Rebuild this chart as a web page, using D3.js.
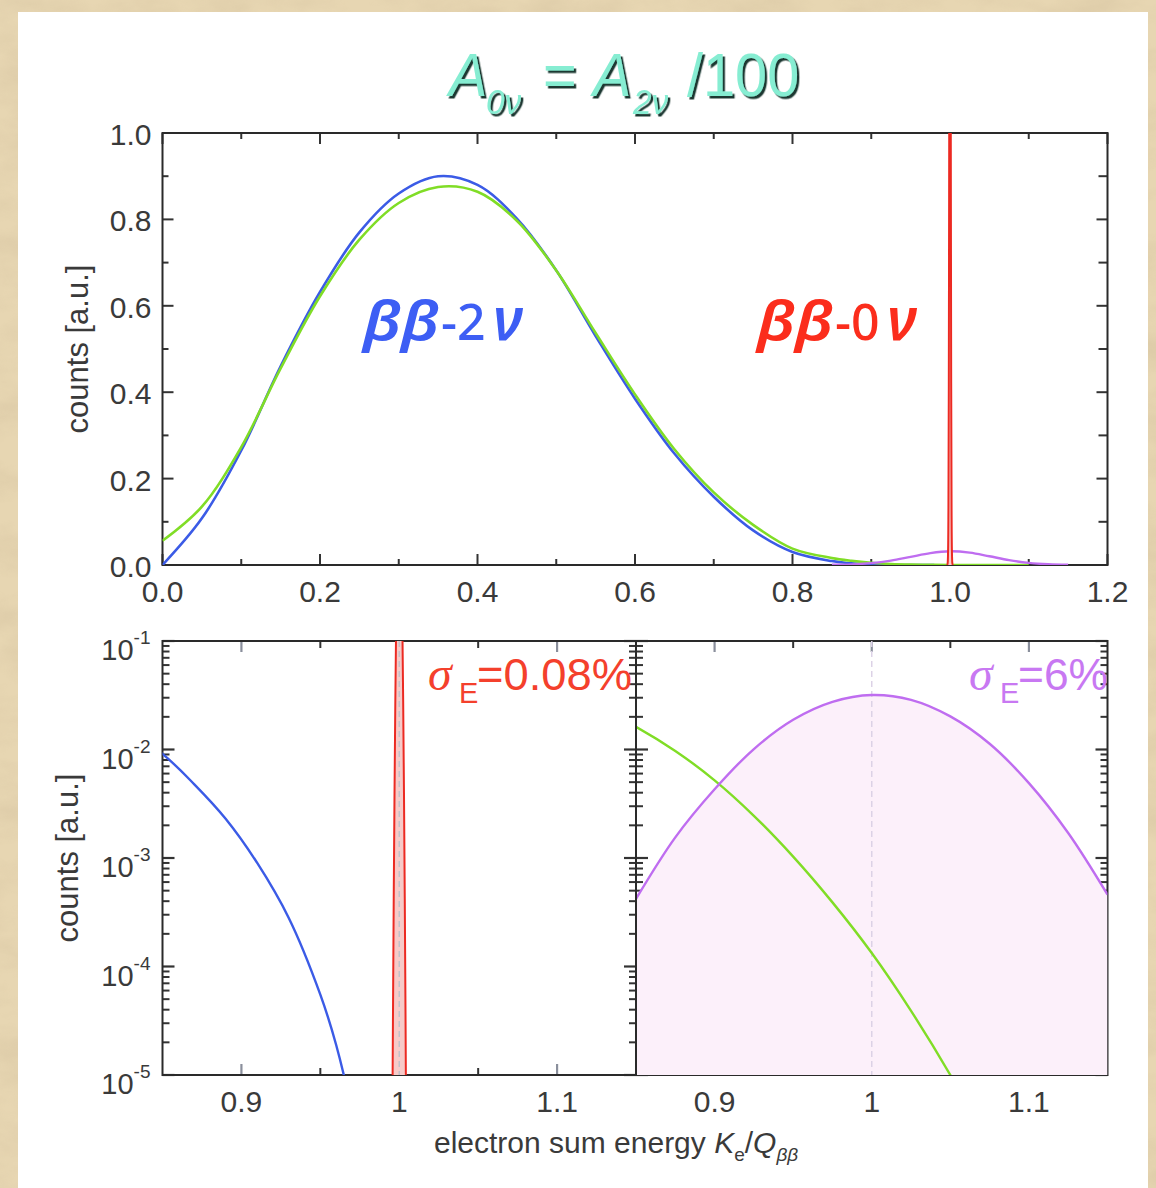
<!DOCTYPE html>
<html>
<head>
<meta charset="utf-8">
<script src="https://cdn.jsdelivr.net/npm/d3@7"></script>
<style>
  html, body { margin: 0; padding: 0; background: #e6d5b1; }
  svg { display: block; }
</style>
</head>
<body>
<script>
// ---------------- spectra ----------------
// two-neutrino sum-energy spectrum, sharp resolution (sigma_E = 0.08%)
const energy2nu = [0, 0.05, 0.1, 0.15, 0.2, 0.25, 0.3, 0.35, 0.4, 0.45, 0.5, 0.55, 0.6, 0.65,
                   0.7, 0.75, 0.8, 0.85, 0.87, 0.89, 0.91, 0.93, 0.95, 0.96, 0.97, 0.98];
const counts2nuSharp = [0, 0.108, 0.265, 0.46, 0.632, 0.770, 0.860, 0.900, 0.880, 0.802, 0.682,
                        0.530, 0.385, 0.258, 0.158, 0.080, 0.030, 0.0091, 0.0048, 0.0023,
                        0.00090, 0.00028, 0.000055, 0.000019, 0.0000046, 0.0000007];

// two-neutrino spectrum seen with sigma_E = 6%
const energy2nuSmeared = [0, 0.05, 0.1, 0.15, 0.2, 0.25, 0.3, 0.35, 0.4, 0.45, 0.5, 0.55, 0.6,
                          0.65, 0.7, 0.75, 0.8, 0.85, 0.875, 0.9, 0.925, 0.95, 0.975, 1.0,
                          1.025, 1.05, 1.075, 1.1];
const counts2nuSmeared = [0.056, 0.135, 0.273, 0.455, 0.622, 0.753, 0.838, 0.875, 0.864, 0.797,
                          0.682, 0.537, 0.395, 0.268, 0.168, 0.093, 0.038, 0.0162, 0.0097,
                          0.0052, 0.00245, 0.00103, 0.00039, 0.000133, 0.000039, 0.00001,
                          0.0000022, 0.0000004];

// neutrinoless peak, sigma_E = 0.08%
const energy0nuNarrow = [0.9955, 0.996, 0.9965, 0.997, 0.9975, 0.998, 0.9985, 0.999, 0.9995, 1.0,
                         1.0005, 1.001, 1.0015, 1.002, 1.0025, 1.003, 1.0035, 1.004, 1.0045];
const counts0nuNarrow = [0.0000016, 0.000031, 0.00042, 0.0039, 0.0265, 0.126, 0.42, 1.0, 1.68, 2.0,
                         1.68, 1.0, 0.42, 0.126, 0.0265, 0.0039, 0.00042, 0.000031, 0.0000016];

// neutrinoless peak, sigma_E = 6%
const energy0nuWide = [0.85, 0.875, 0.9, 0.925, 0.95, 0.975, 1.0, 1.025, 1.05, 1.075, 1.1, 1.125, 1.15];
const counts0nuWide = [0.00042, 0.00155, 0.0043, 0.0101, 0.0188, 0.0275, 0.0318, 0.0287, 0.0202,
                       0.0113, 0.0049, 0.0017, 0.00046];

// ---------------- axes ----------------
const topXMajor = [0, 0.2, 0.4, 0.6, 0.8, 1.0, 1.2];
const topXMinor = [0.1, 0.3, 0.5, 0.7, 0.9, 1.1];
const topXLabels = ["0.0", "0.2", "0.4", "0.6", "0.8", "1.0", "1.2"];
const topYMajor = [0, 0.2, 0.4, 0.6, 0.8, 1.0];
const topYMinor = [0.1, 0.3, 0.5, 0.7, 0.9];
const topYLabels = ["0.0", "0.2", "0.4", "0.6", "0.8", "1.0"];
const zoomXMajor = [0.9, 1.0, 1.1];
const zoomXMinor = [0.95, 1.05];
const zoomXLabels = ["0.9", "1", "1.1"];
const logDecades = [1e-5, 1e-4, 1e-3, 1e-2, 1e-1];
const logExponents = ["-5", "-4", "-3", "-2", "-1"];

// ---------------- setup ----------------
const W = 1156, H = 1188;
const FONT = "'Liberation Sans', Arial, Helvetica, sans-serif";
const HUMAN = "'Noto Sans', 'Open Sans', sans-serif";
const C = {
  blue: "#3b5be6", green: "#80dd26", purple: "#bf6df0", red: "#ec2a22",
  redFill: "#f7cac8", purpleFill: "#fcf0fa", frame: "#2a2a2a", tick: "#333",
  tickGray: "#8a8f9c", text: "#3a3a3a"
};

const svg = d3.select("body").append("svg").attr("width", W).attr("height", H);
const defs = svg.append("defs");

// parchment backdrop
const paper = defs.append("filter").attr("id", "paper")
  .attr("x", 0).attr("y", 0).attr("width", "100%").attr("height", "100%");
paper.append("feTurbulence").attr("type", "fractalNoise")
  .attr("baseFrequency", "0.015 0.03").attr("numOctaves", 4).attr("seed", 7).attr("result", "n");
paper.append("feColorMatrix").attr("in", "n").attr("type", "matrix")
  .attr("values", "0 0 0 0 0.62  0 0 0 0 0.50  0 0 0 0 0.32  1.3 0 0 0 -0.5");

// dark drop shadow for the headline
const shadow = defs.append("filter").attr("id", "headShadow")
  .attr("x", "-10%").attr("y", "-20%").attr("width", "120%").attr("height", "140%");
shadow.append("feDropShadow").attr("dx", 2.5).attr("dy", 2.5).attr("stdDeviation", 0.6)
  .attr("flood-color", "#1c3732").attr("flood-opacity", 1);

svg.append("rect").attr("width", W).attr("height", H).attr("fill", "#e7d6b2");
svg.append("rect").attr("width", W).attr("height", H).attr("filter", "url(#paper)").attr("opacity", 0.55);
svg.append("rect").attr("x", 18).attr("y", 12).attr("width", 1130).attr("height", H).attr("fill", "#fff");

// scales
const xTop = d3.scaleLinear().domain([0, 1.2]).range([162.5, 1107.5]);
const yTop = d3.scaleLinear().domain([0, 1]).range([565, 133]);
const yLog = d3.scaleLog().domain([1e-5, 1e-1]).range([1075, 641]);
const xLeft = d3.scaleLinear().domain([0.85, 1.15]).range([162.5, 636]);
const xRight = d3.scaleLinear().domain([0.85, 1.15]).range([636, 1107.5]);
const smooth = d3.curveCatmullRom.alpha(0.5);

function clip(id, x0, x1, y0, y1) {
  defs.append("clipPath").attr("id", id).append("rect")
    .attr("x", x0).attr("y", y0).attr("width", x1 - x0).attr("height", y1 - y0);
}
clip("clipTop", xTop.range()[0], xTop.range()[1], yTop.range()[1], yTop.range()[0]);
clip("clipLeft", xLeft.range()[0], xLeft.range()[1], yLog.range()[1], yLog.range()[0]);
clip("clipRight", xRight.range()[0], xRight.range()[1], yLog.range()[1], yLog.range()[0]);

function hTicks(g, scale, vals, y, len, dir, color, w) {
  g.selectAll(null).data(vals).enter().append("line")
    .attr("x1", d => scale(d)).attr("x2", d => scale(d))
    .attr("y1", y).attr("y2", y + dir * len)
    .attr("stroke", color).attr("stroke-width", w);
}
function vTicks(g, scale, vals, x, len, dir, color, w) {
  g.selectAll(null).data(vals).enter().append("line")
    .attr("y1", d => scale(d)).attr("y2", d => scale(d))
    .attr("x1", x).attr("x2", x + dir * len)
    .attr("stroke", color).attr("stroke-width", w);
}
function frame(g, x0, x1, y0, y1) {
  g.append("rect").attr("x", x0).attr("y", y0).attr("width", x1 - x0).attr("height", y1 - y0)
    .attr("fill", "none").attr("stroke", C.frame).attr("stroke-width", 2);
}
const pairs = (xs, ys) => xs.map((x, i) => [x, ys[i]]);

// ---------------- top panel: linear ----------------
const gTop = svg.append("g");
{
  const [x0, x1] = xTop.range(), [y1, y0] = yTop.range();
  hTicks(gTop, xTop, topXMajor, y1, 11, -1, C.tick, 2);
  hTicks(gTop, xTop, topXMinor, y1, 6, -1, C.tick, 2);
  hTicks(gTop, xTop, topXMajor, y0, 11, 1, C.tick, 2);
  hTicks(gTop, xTop, topXMinor, y0, 6, 1, C.tick, 2);
  vTicks(gTop, yTop, topYMajor, x0, 11, 1, C.tick, 2);
  vTicks(gTop, yTop, topYMinor, x0, 6, 1, C.tick, 2);
  vTicks(gTop, yTop, topYMajor, x1, 11, -1, C.tick, 2);
  vTicks(gTop, yTop, topYMinor, x1, 9, -1, C.tick, 2);
  frame(gTop, x0, x1, y0, y1);

  gTop.selectAll(null).data(topXMajor).enter().append("text")
    .attr("x", d => xTop(d)).attr("y", y1 + 36.5).attr("text-anchor", "middle")
    .attr("font-family", FONT).attr("font-size", 30).attr("fill", C.text)
    .text((d, i) => topXLabels[i]);
  gTop.selectAll(null).data(topYMajor).enter().append("text")
    .attr("x", x0 - 11).attr("y", d => yTop(d) + 12).attr("text-anchor", "end")
    .attr("font-family", FONT).attr("font-size", 30).attr("fill", C.text)
    .text((d, i) => topYLabels[i]);
  gTop.append("text").attr("transform", `translate(88,${(y0 + y1) / 2}) rotate(-90)`)
    .attr("text-anchor", "middle").attr("font-family", FONT).attr("font-size", 31)
    .attr("fill", C.text).text("counts [a.u.]");

  const curves = gTop.append("g").attr("clip-path", "url(#clipTop)").attr("fill", "none");
  const line = d3.line().x(d => xTop(d[0])).y(d => yTop(d[1])).curve(smooth);
  curves.append("path").attr("d", line(pairs(energy2nu, counts2nuSharp)))
    .attr("stroke", C.blue).attr("stroke-width", 2.6);
  curves.append("path").attr("d", line(pairs(energy2nuSmeared, counts2nuSmeared)))
    .attr("stroke", C.green).attr("stroke-width", 2.6);
  curves.append("path").attr("d", line(pairs(energy0nuWide, counts0nuWide)))
    .attr("stroke", C.purple).attr("stroke-width", 2.4);
  const area = d3.area().x(d => xTop(d[0])).y0(yTop(0)).y1(d => yTop(d[1])).curve(smooth);
  curves.append("path").attr("d", area(pairs(energy0nuNarrow, counts0nuNarrow)))
    .attr("fill", C.redFill).attr("stroke", "none");
  curves.append("path").attr("d", line(pairs(energy0nuNarrow, counts0nuNarrow)))
    .attr("stroke", C.red).attr("stroke-width", 2);
}

// ---------------- lower panels: log ----------------
function logPanel(xs, withLabels) {
  const g = svg.append("g");
  const [x0, x1] = xs.range(), [y1, y0] = yLog.range();
  const all = yLog.ticks();
  const major = all.filter(v => Math.abs(Math.log10(v) - Math.round(Math.log10(v))) < 1e-9);
  const minor = all.filter(v => !major.includes(v));
  hTicks(g, xs, zoomXMajor, y1, 11, -1, C.tickGray, 2.2);
  hTicks(g, xs, zoomXMinor, y1, 7, -1, C.tick, 2);
  hTicks(g, xs, zoomXMajor, y0, 11, 1, C.tickGray, 2.2);
  hTicks(g, xs, zoomXMinor, y0, 7, 1, C.tick, 2);
  vTicks(g, yLog, major, x0, 12, 1, C.tick, 2.2);
  vTicks(g, yLog, minor, x0, 7, 1, C.tick, 2);
  vTicks(g, yLog, major, x1, 12, -1, C.tick, 2.2);
  vTicks(g, yLog, minor, x1, 7, -1, C.tick, 2);
  frame(g, x0, x1, y0, y1);
  g.selectAll(null).data(zoomXMajor).enter().append("text")
    .attr("x", d => xs(d)).attr("y", y1 + 37).attr("text-anchor", "middle")
    .attr("font-family", FONT).attr("font-size", 30).attr("fill", C.text)
    .text((d, i) => zoomXLabels[i]);
  if (withLabels) {
    const lab = g.selectAll(null).data(logDecades).enter().append("text")
      .attr("x", x0 - 12).attr("y", d => yLog(d) + 19).attr("text-anchor", "end")
      .attr("font-family", FONT).attr("fill", C.text);
    lab.append("tspan").attr("font-size", 29).text("10");
    lab.append("tspan").attr("font-size", 19).attr("dy", -16).text((d, i) => logExponents[i]);
    g.append("text").attr("transform", `translate(78,${(y0 + y1) / 2}) rotate(-90)`)
      .attr("text-anchor", "middle").attr("font-family", FONT).attr("font-size", 31)
      .attr("fill", C.text).text("counts [a.u.]");
  }
  return g;
}

// left: sigma_E = 0.08%
{
  const g = logPanel(xLeft, true);
  const c = g.append("g").attr("clip-path", "url(#clipLeft)").attr("fill", "none");
  const line = d3.line().defined(d => d[1] > 0)
    .x(d => xLeft(d[0])).y(d => yLog(d[1])).curve(smooth);
  const area = d3.area().defined(d => d[1] > 0)
    .x(d => xLeft(d[0])).y0(yLog.range()[0] + 5).y1(d => yLog(d[1])).curve(smooth);
  c.append("path").attr("d", area(pairs(energy0nuNarrow, counts0nuNarrow)))
    .attr("fill", C.redFill).attr("stroke", "none");
  c.append("line").attr("x1", xLeft(1)).attr("x2", xLeft(1))
    .attr("y1", yLog.range()[1]).attr("y2", yLog.range()[0])
    .attr("stroke", "#c4c0c8").attr("stroke-width", 1.5).attr("stroke-dasharray", "6,4");
  c.append("path").attr("d", line(pairs(energy2nu, counts2nuSharp)))
    .attr("stroke", C.blue).attr("stroke-width", 2.4);
  c.append("path").attr("d", line(pairs(energy0nuNarrow, counts0nuNarrow)))
    .attr("stroke", C.red).attr("stroke-width", 2);
}

// right: sigma_E = 6%
{
  const g = logPanel(xRight, false);
  const c = g.append("g").attr("clip-path", "url(#clipRight)").attr("fill", "none");
  const line = d3.line().defined(d => d[1] > 0)
    .x(d => xRight(d[0])).y(d => yLog(d[1])).curve(smooth);
  const area = d3.area().defined(d => d[1] > 0)
    .x(d => xRight(d[0])).y0(yLog.range()[0] + 5).y1(d => yLog(d[1])).curve(smooth);
  c.append("path").attr("d", area(pairs(energy0nuWide, counts0nuWide)))
    .attr("fill", C.purpleFill).attr("stroke", "none");
  c.append("line").attr("x1", xRight(1)).attr("x2", xRight(1))
    .attr("y1", yLog.range()[1]).attr("y2", yLog.range()[0])
    .attr("stroke", "#dcd2e6").attr("stroke-width", 1.5).attr("stroke-dasharray", "6,4");
  c.append("path").attr("d", line(pairs(energy2nuSmeared, counts2nuSmeared)))
    .attr("stroke", C.green).attr("stroke-width", 2.4);
  c.append("path").attr("d", line(pairs(energy0nuWide, counts0nuWide)))
    .attr("stroke", C.purple).attr("stroke-width", 2.4);
  // shared divider between the two lower panels
  svg.append("line").attr("x1", 636).attr("x2", 636)
    .attr("y1", yLog.range()[1]).attr("y2", yLog.range()[0])
    .attr("stroke", C.frame).attr("stroke-width", 2);
}

// x-axis title
{
  const t = svg.append("text").attr("x", 434).attr("y", 1153)
    .attr("font-family", FONT).attr("font-size", 30).attr("fill", C.text);
  t.append("tspan").text("electron sum energy ");
  t.append("tspan").attr("font-style", "italic").text("K");
  t.append("tspan").attr("font-size", 19).attr("dy", 8).text("e");
  t.append("tspan").attr("dy", -8).text("/");
  t.append("tspan").attr("font-style", "italic").text("Q");
  t.append("tspan").attr("font-size", 19).attr("font-style", "italic").attr("dy", 8).text("ββ");
}

// ---------------- annotations ----------------
// headline A_0v = A_2v /100, one text element with a dark drop shadow
{
  const sx = 0.93, left = 449;
  const u = px => (px - left) / sx;   // page x -> text x inside the condensed frame
  const t = svg.append("text")
    .attr("transform", `translate(${left},0) scale(${sx},1)`)
    .attr("font-family", FONT).attr("fill", "#86edd2").attr("filter", "url(#headShadow)");
  t.append("tspan").attr("x", u(449)).attr("y", 96).attr("font-size", 62).attr("font-style", "italic").text("A");
  t.append("tspan").attr("x", u(486)).attr("y", 114).attr("font-size", 36).attr("font-style", "italic").text("0ν");
  t.append("tspan").attr("x", u(543)).attr("y", 96).attr("font-size", 62).text("=");
  t.append("tspan").attr("x", u(593)).attr("y", 96).attr("font-size", 62).attr("font-style", "italic").text("A");
  t.append("tspan").attr("x", u(633)).attr("y", 114).attr("font-size", 36).attr("font-style", "italic").text("2ν");
  t.append("tspan").attr("x", u(687)).attr("y", 96).attr("font-size", 62).text("/100");
}

// process labels
function procLabel(x, color, digit) {
  const g = svg.append("g").attr("fill", color).attr("font-family", HUMAN);
  g.append("text").attr("x", x).attr("y", 340).attr("font-size", 54).attr("font-style", "italic")
    .attr("font-weight", 600).attr("textLength", 76).attr("lengthAdjust", "spacingAndGlyphs").text("ββ");
  g.append("text").attr("x", x + 78).attr("y", 340).attr("font-size", 50).attr("font-weight", 500)
    .text("-" + digit);
  g.append("text").attr("x", x + 130).attr("y", 340).attr("font-size", 60).attr("font-style", "italic")
    .attr("font-weight", 600).text("ν");
}
procLabel(363, "#3d5ef4", "2");
procLabel(757, "#fb2d1c", "0");

// resolution labels
function sigmaLabel(x, color, value, len) {
  const t = svg.append("text").attr("fill", color).attr("font-family", FONT);
  t.append("tspan").attr("x", x).attr("y", 690).attr("font-family", "'Liberation Serif', serif")
    .attr("font-size", 48).attr("font-style", "italic").text("σ");
  t.append("tspan").attr("x", x + 31).attr("y", 703).attr("font-size", 29).text("E");
  t.append("tspan").attr("x", x + 49).attr("y", 690).attr("font-size", 44)
    .attr("textLength", len).attr("lengthAdjust", "spacingAndGlyphs").text("=" + value);
}
sigmaLabel(428, "#f4402c", "0.08%", 155);
sigmaLabel(969, "#c878f2", "6%", 90);
</script>
</body>
</html>
